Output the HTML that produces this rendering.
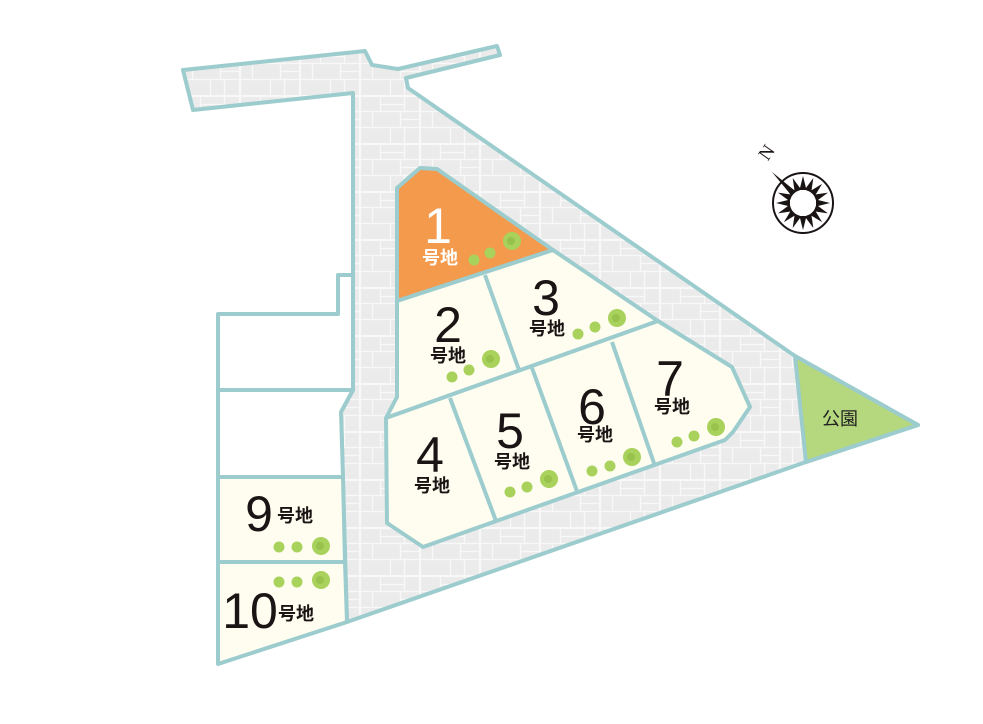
<!DOCTYPE html>
<html><head><meta charset="utf-8"><style>
html,body{margin:0;padding:0;background:#fff;width:983px;height:724px;overflow:hidden}
svg{display:block}
.n{font-family:"Liberation Sans",sans-serif;font-size:50px;fill:#1a1414}
.g{font-family:"Liberation Sans","Noto Sans CJK JP",sans-serif;font-size:18px;font-weight:bold;fill:#1a1414}
</style></head><body>
<svg width="983" height="724" viewBox="0 0 983 724" xmlns="http://www.w3.org/2000/svg">
<defs>
<pattern id="tile" width="60" height="48" patternUnits="userSpaceOnUse">
<rect width="60" height="48" fill="#ebebeb"/>
<g fill="none" stroke="#f8f8f8" stroke-width="1.2">
<rect x="0.5" y="0.5" width="20" height="15"/><rect x="20.5" y="0.5" width="24" height="8"/><rect x="44.5" y="0.5" width="15" height="15"/>
<rect x="20.5" y="8.5" width="24" height="7"/><rect x="0.5" y="15.5" width="12" height="16"/><rect x="12.5" y="15.5" width="28" height="16"/>
<rect x="40.5" y="15.5" width="19" height="8"/><rect x="40.5" y="23.5" width="19" height="8"/><rect x="0.5" y="31.5" width="30" height="16"/>
<rect x="30.5" y="31.5" width="14" height="16"/><rect x="44.5" y="31.5" width="15" height="16"/>
</g></pattern>
<g id="tr"><circle r="5.5" fill="#a9d25c"/></g>
<g id="tb"><circle r="9" fill="#a9d25c"/><circle r="4" cx="-1" cy="0" fill="#98c24e"/></g>
</defs>
<g stroke="#9ccccd" stroke-width="4" stroke-linejoin="round">
<polygon fill="url(#tile)" points="183,70 365,51 372,65 398,69 497,46 500,55 406,78 408,88 795,356 918,425 806,462 347,622 341,412 353,390 353,93 193,110"/>
<polygon fill="#fff" points="218,314 338,314 338,275 353,275 353,390 218,390"/>
<polygon fill="#fff" points="218,390 353,390 341,412 343,477 218,477"/>
<polygon fill="#fefdf0" points="218,477 343,477 345,562 218,562"/>
<polygon fill="#fefdf0" points="218,562 345,562 347,622 218,664"/>
<polygon fill="#b5d87e" points="795,356 918,425 806,462"/>
<polygon fill="#f39a4c" points="397,188 420,168 437,169 553,250 397,301"/>
<polygon fill="#fefdf0" points="397,301 553,250 658,321 386,418 397,397"/>
<line x1="485" y1="275" x2="519" y2="370"/>
<polygon fill="#fefdf0" points="386,418 658,321 732,367 750,407 733,432 725,440 423,547 387,523"/>
<line x1="450" y1="398" x2="496" y2="521"/>
<line x1="532" y1="368" x2="578" y2="494"/>
<line x1="612" y1="342" x2="655" y2="466"/>
</g>
<use href="#tr" x="474" y="260"/><use href="#tr" x="490" y="253"/><use href="#tb" x="512" y="241"/>
<use href="#tr" x="452" y="377"/><use href="#tr" x="469" y="370"/><use href="#tb" x="491" y="359"/>
<use href="#tr" x="578" y="334"/><use href="#tr" x="595" y="327"/><use href="#tb" x="617" y="318"/>
<use href="#tr" x="510" y="492"/><use href="#tr" x="527" y="487"/><use href="#tb" x="549" y="479"/>
<use href="#tr" x="592" y="471"/><use href="#tr" x="610" y="466"/><use href="#tb" x="632" y="457"/>
<use href="#tr" x="677" y="442"/><use href="#tr" x="694" y="436"/><use href="#tb" x="716" y="427"/>
<use href="#tr" x="279" y="547"/><use href="#tr" x="297" y="547"/><use href="#tb" x="321" y="546"/>
<use href="#tr" x="279" y="582"/><use href="#tr" x="297" y="582"/><use href="#tb" x="321" y="580"/>
<text class="n" x="438" y="243" text-anchor="middle" style="fill:#fff">1</text>
<text class="g" x="440" y="264" text-anchor="middle" style="fill:#fff">号地</text>
<text class="n" x="448" y="342" text-anchor="middle">2</text>
<text class="g" x="448" y="362" text-anchor="middle">号地</text>
<text class="n" x="546" y="315" text-anchor="middle">3</text>
<text class="g" x="547" y="335" text-anchor="middle">号地</text>
<text class="n" x="430" y="472" text-anchor="middle">4</text>
<text class="g" x="432" y="492" text-anchor="middle">号地</text>
<text class="n" x="510" y="448" text-anchor="middle">5</text>
<text class="g" x="512" y="468" text-anchor="middle">号地</text>
<text class="n" x="592" y="424" text-anchor="middle">6</text>
<text class="g" x="595" y="441" text-anchor="middle">号地</text>
<text class="n" x="670" y="396" text-anchor="middle">7</text>
<text class="g" x="672" y="413" text-anchor="middle">号地</text>
<text class="n" x="259" y="531" text-anchor="middle">9</text>
<text class="g" x="277" y="522">号地</text>
<text class="n" x="250" y="628" text-anchor="middle">10</text>
<text class="g" x="278" y="620">号地</text>
<text x="840" y="425" text-anchor="middle" style="font-family:'Liberation Sans','Noto Sans CJK JP',sans-serif;font-size:18px;fill:#222">公園</text>
<g transform="translate(803,203)">
<circle r="30" fill="#fff" stroke="#1a1414" stroke-width="2"/>
<g fill="#1a1414">
<polygon points="-3.5,-13 3.5,-13 0,-27" transform="rotate(0)"/>
<polygon points="-3.5,-13 3.5,-13 0,-27" transform="rotate(22.5)"/>
<polygon points="-3.5,-13 3.5,-13 0,-27" transform="rotate(45)"/>
<polygon points="-3.5,-13 3.5,-13 0,-27" transform="rotate(67.5)"/>
<polygon points="-3.5,-13 3.5,-13 0,-27" transform="rotate(90)"/>
<polygon points="-3.5,-13 3.5,-13 0,-27" transform="rotate(112.5)"/>
<polygon points="-3.5,-13 3.5,-13 0,-27" transform="rotate(135)"/>
<polygon points="-3.5,-13 3.5,-13 0,-27" transform="rotate(157.5)"/>
<polygon points="-3.5,-13 3.5,-13 0,-27" transform="rotate(180)"/>
<polygon points="-3.5,-13 3.5,-13 0,-27" transform="rotate(202.5)"/>
<polygon points="-3.5,-13 3.5,-13 0,-27" transform="rotate(225)"/>
<polygon points="-3.5,-13 3.5,-13 0,-27" transform="rotate(247.5)"/>
<polygon points="-3.5,-13 3.5,-13 0,-27" transform="rotate(270)"/>
<polygon points="-3.5,-13 3.5,-13 0,-27" transform="rotate(292.5)"/>
<polygon points="-3.5,-13 3.5,-13 0,-27" transform="rotate(315)"/>
<polygon points="-3.5,-13 3.5,-13 0,-27" transform="rotate(337.5)"/>
<polygon points="-3,-13 3,-13 0,-44" transform="rotate(-45)"/>
</g>
<circle r="13" fill="#fff"/>
</g>
<text x="766" y="159" transform="rotate(-55 766 152)" text-anchor="middle" style="font-family:'Liberation Serif',serif;font-size:19px;fill:#1a1414">N</text>
</svg>
</body></html>
